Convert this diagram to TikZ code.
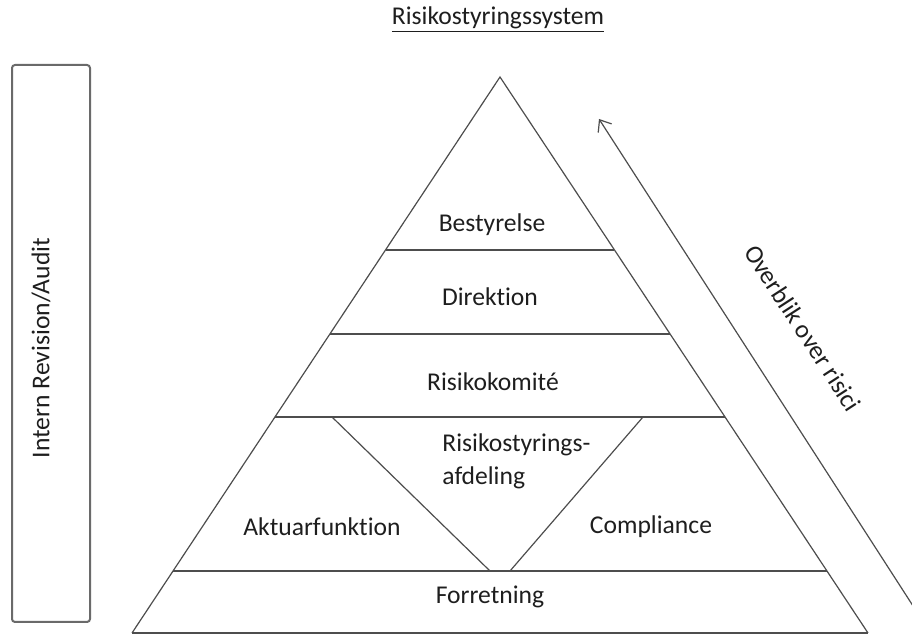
\documentclass[tikz,border=0pt]{standalone}
\usepackage{fontspec}
\setmainfont{Carlito}[Ligatures={NoCommon, NoRequired, NoContextual}]
\usetikzlibrary{arrows.meta}
\usetikzlibrary{calc}
\definecolor{linegray}{HTML}{4D4D4D}
\definecolor{boxgray}{HTML}{6A6A6A}
\definecolor{txtgray}{HTML}{1E1E1E}
\tikzset{lbl/.style = {text = txtgray, font = \fontsize{12.8}{15.4}\selectfont, inner sep = 0}}
\tikzset{tierline/.style = {draw = linegray, line width = 1pt}}
\tikzset{thinline/.style = {draw = linegray, line width = 0.6pt}}

\begin{document}
\begin{tikzpicture}[x=0.5pt, y=-0.5pt]
      \useasboundingbox (0,0) rectangle (912,635);
      \clip (0,0) rectangle (912,635);

      \coordinate (apex) at (500,77);
      \coordinate (baseleft) at (132,633);
      \coordinate (baseright) at (868,633);

      \draw [thinline] (baseleft) -- (apex) -- (baseright);
      \draw [tierline] (baseleft) -- (baseright);

      \draw [tierline] ($(apex)!0.311!(baseleft)$) -- ($(apex)!0.311!(baseright)$);
      \draw [tierline] ($(apex)!0.462!(baseleft)$) -- ($(apex)!0.462!(baseright)$);
      \draw [tierline] ($(apex)!0.6115!(baseleft)$) -- ($(apex)!0.6115!(baseright)$);
      \draw [tierline] ($(apex)!0.888!(baseleft)$) -- ($(apex)!0.888!(baseright)$);

      \draw [thinline] (332,417) -- (490,571);
      \draw [thinline] (643,417) -- (510,571);

      \draw [draw = boxgray, line width = 1pt, rounded corners = 1.5pt] (12,65) rectangle (90,622);

      \node [lbl] (title) at (498,20) {\underline{Risikostyringssystem}};
      \node [lbl] (bestyrelse) at (492,225) {Bestyrelse};
      \node [lbl] (direktion) at (490,297) {Direktion};
      \node [lbl] (komite) at (493,382) {Risikokomité};
      \node [lbl, anchor = west, align = left, font = \fontsize{12.8}{16.5}\selectfont] (afdeling) at (442,461) {Risikostyrings-\\afdeling};
      \node [lbl] (aktuar) at (322,527) {Aktuarfunktion};
      \node [lbl] (compliance) at (651,527) {Compliance};
      \node [lbl] (forretning) at (490,597) {Forretning};
      \node [lbl, rotate = 90] (audit) at (41,348) {Intern Revision/Audit};

      \coordinate (ovstart) at (935,640);
      \coordinate (ovtip) at (599,119);
      \draw [thinline, -{Straight Barb[length=5pt, width=8pt]}] (ovstart) -- (ovtip);
      \node [lbl, rotate = -57] (overblik) at (803,328) {Overblik over risici};
    \end{tikzpicture}
\end{document}
